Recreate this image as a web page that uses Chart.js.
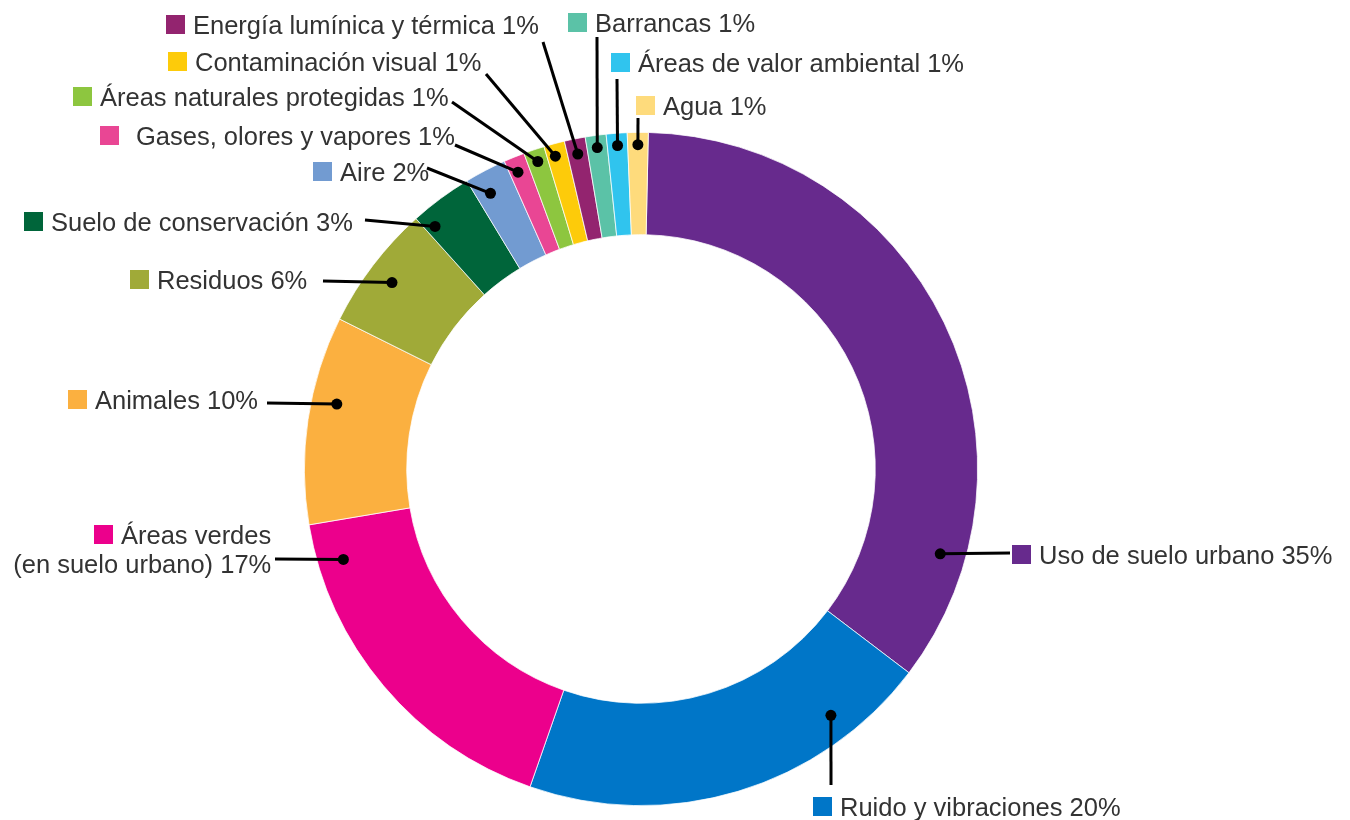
<!DOCTYPE html>
<html>
<head>
<meta charset="utf-8">
<script src="https://cdn.jsdelivr.net/npm/chart.js@4"></script>
<style>
  html, body { margin: 0; padding: 0; background: #fff; }
  #wrap { width: 1350px; height: 820px; position: relative; }
</style>
</head>
<body>
<div id="wrap"><canvas id="myChart"></canvas></div>
<script>
const categories = [
  'Uso de suelo urbano',
  'Ruido y vibraciones',
  'Áreas verdes\n(en suelo urbano)',
  'Animales',
  'Residuos',
  'Suelo de conservación',
  'Aire',
  'Gases, olores y vapores',
  'Áreas naturales protegidas',
  'Contaminación visual',
  'Energía lumínica y térmica',
  'Barrancas',
  'Áreas de valor ambiental',
  'Agua'
];
const values = [35, 20, 17, 10, 6, 3, 2, 1, 1, 1, 1, 1, 1, 1];
const colors = [
  '#672a8d', '#0076c8', '#ec008c', '#fbb040', '#a0aa38', '#00653a', '#729bd1',
  '#e94694', '#8dc63f', '#fdcb0a', '#93246f', '#5bc2a7', '#30c4ee', '#fedb7c'
];

// where each label sits: square left x, baseline y, leader start, dot spot in its slice
const labelBoxes = [
  { x: 1012, y: 564, lx: 1010, ly: 553, at: 0.83, depth: 0.75 },
  { x: 813,  y: 816, lx: 831,  ly: 785, at: 0.21, depth: 0.75 },
  { x: 94,   y: 544, lx: 275,  ly: 559, at: 0.88, depth: 0.75, lineGap: 29 },
  { x: 68,   y: 409, lx: 267,  ly: 403, at: 0.60, depth: 0.75 },
  { x: 130,  y: 289, lx: 323,  ly: 281, at: 0.48, depth: 0.75 },
  { x: 24,   y: 231, lx: 365,  ly: 220, at: 0.15, depth: 0.82 },
  { x: 313,  y: 181, lx: 427,  ly: 168, at: 0.35, depth: 0.78 },
  { x: 100,  y: 145, lx: 455,  ly: 145, at: 0.40, depth: 0.85, gap: 17 },
  { x: 73,   y: 106, lx: 452,  ly: 102, at: 0.50, depth: 0.88 },
  { x: 168,  y: 71,  lx: 486,  ly: 74,  at: 0.40, depth: 0.88 },
  { x: 166,  y: 34,  lx: 543,  ly: 42,  at: 0.50, depth: 0.85 },
  { x: 568,  y: 32,  lx: 597,  ly: 37,  at: 0.50, depth: 0.88 },
  { x: 611,  y: 72,  lx: 617,  ly: 79,  at: 0.50, depth: 0.88 },
  { x: 636,  y: 115, lx: 638,  ly: 118, at: 0.50, depth: 0.88 }
];

const calloutPlugin = {
  id: 'callouts',
  afterDatasetsDraw(chart) {
    const ctx = chart.ctx;
    const arcs = chart.getDatasetMeta(0).data;
    ctx.save();
    ctx.font = '25.5px "Liberation Sans", Arial, sans-serif';
    ctx.textBaseline = 'alphabetic';
    arcs.forEach((arc, i) => {
      const box = labelBoxes[i];
      const p = arc.getProps(['x', 'y', 'startAngle', 'endAngle', 'innerRadius', 'outerRadius'], true);
      const a = p.startAngle + (p.endAngle - p.startAngle) * box.at;
      const r = p.innerRadius + (p.outerRadius - p.innerRadius) * box.depth;
      const dx = p.x + r * Math.cos(a);
      const dy = p.y + r * Math.sin(a);

      // leader line and dot
      ctx.strokeStyle = '#000';
      ctx.lineWidth = 3;
      ctx.beginPath();
      ctx.moveTo(box.lx, box.ly);
      ctx.lineTo(dx, dy);
      ctx.stroke();
      ctx.fillStyle = '#000';
      ctx.beginPath();
      ctx.arc(dx, dy, 5.5, 0, Math.PI * 2);
      ctx.fill();

      // square + text
      ctx.fillStyle = colors[i];
      ctx.fillRect(box.x, box.y - 19, 19, 19);
      const lines = (categories[i] + ' ' + values[i] + '%').split('\n');
      const tx = box.x + 19 + (box.gap || 8);
      ctx.fillStyle = '#333';
      if (lines.length === 1) {
        ctx.textAlign = 'left';
        ctx.fillText(lines[0], tx, box.y);
      } else {
        const right = tx + ctx.measureText(lines[0]).width;
        ctx.textAlign = 'right';
        lines.forEach((ln, k) => ctx.fillText(ln, right, box.y + k * box.lineGap));
      }
    });
    ctx.restore();
  }
};

new Chart(document.getElementById('myChart'), {
  type: 'doughnut',
  data: {
    labels: categories,
    datasets: [{
      data: values,
      backgroundColor: colors,
      borderColor: '#ffffff',
      borderWidth: 0.75
    }]
  },
  options: {
    responsive: true,
    maintainAspectRatio: false,
    animation: false,
    rotation: 1.25,
    cutout: '69.6%',
    layout: { padding: { left: 304, right: 372, top: 132, bottom: 14 } },
    plugins: {
      legend: { display: false },
      tooltip: { enabled: false }
    }
  },
  plugins: [calloutPlugin]
});
</script>
</body>
</html>
